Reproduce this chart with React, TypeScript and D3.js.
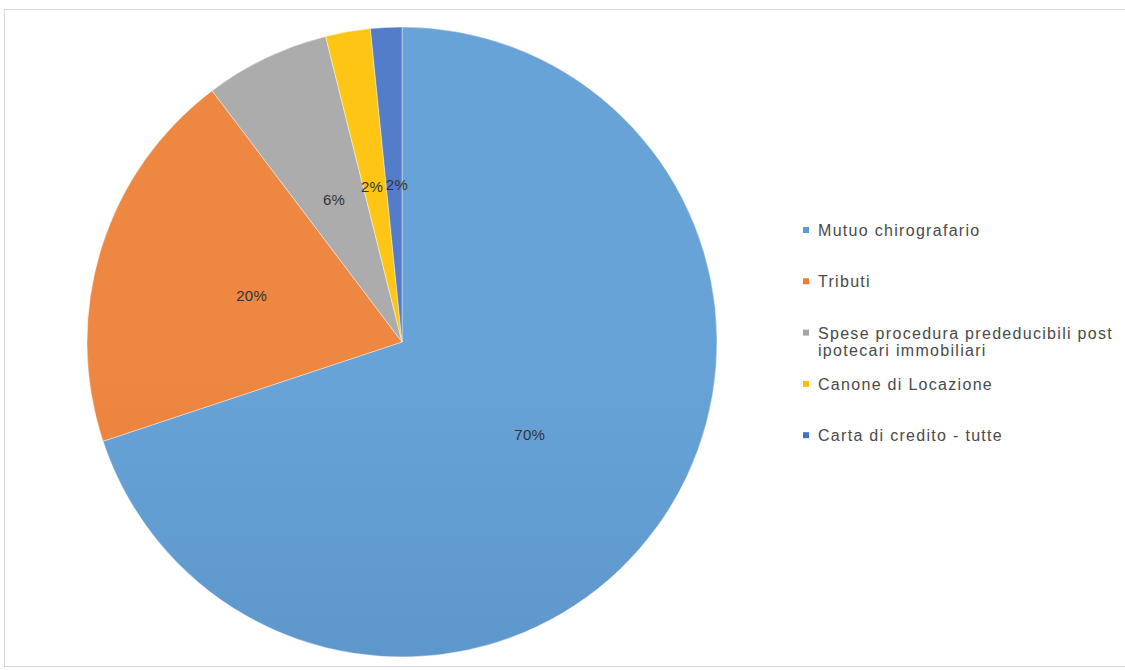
import React from "react";
import * as d3 from "d3";

const categories = [
  "Mutuo chirografario",
  "Tributi",
  "Spese procedura prededucibili post ipotecari immobiliari",
  "Canone di Locazione",
  "Carta di credito - tutte",
];
const legendLines = [
  ["Mutuo chirografario"],
  ["Tributi"],
  ["Spese procedura prededucibili post", "ipotecari immobiliari"],
  ["Canone di Locazione"],
  ["Carta di credito - tutte"],
];
const values = [69.9, 19.8, 6.4, 2.3, 1.6];
const colors = ["#5B9BD5", "#ED7D31", "#A5A5A5", "#FFC000", "#4472C4"];

const W = 1125;
const H = 670;
const cx = 402;
const cy = 342;
const R = 315;
const labelSize = 15;

export default function App() {
  const total = d3.sum(values);
  const pie = d3
    .pie<number>()
    .sort(null)
    .value((d) => d)
    .startAngle(0)
    .endAngle(2 * Math.PI);
  const arcs = pie(values);
  const arc = d3.arc<d3.PieArcDatum<number>>().innerRadius(0).outerRadius(R);
  const font = "Arial, 'Liberation Sans', sans-serif";

  // label positions at centroids, then nudge apart any that collide
  const labels = arcs.map((a, i) => {
    const [x, y] = arc.centroid(a);
    const text = Math.round((values[i] / total) * 100) + "%";
    const w = text.length * labelSize * 0.76 + 2;
    return { x, y, text, w };
  });
  for (let it = 0; it < 30; it++) {
    for (let i = 0; i < labels.length; i++) {
      for (let j = i + 1; j < labels.length; j++) {
        const a = labels[i];
        const b = labels[j];
        if (Math.abs(a.y - b.y) < labelSize) {
          const need = (a.w + b.w) / 2;
          const dx = b.x - a.x;
          if (Math.abs(dx) < need) {
            const push = (need - Math.abs(dx)) / 2 + 0.01;
            const s = dx >= 0 ? 1 : -1;
            a.x -= s * push;
            b.x += s * push;
          }
        }
      }
    }
  }

  const legendX = 803;
  const legendY0 = 230;
  const legendStep = 51.3;
  const lineH = 17;

  return (
    <svg
      width={W}
      height={H}
      style={{ position: "absolute", left: 0, top: 0, background: "#fff" }}
    >
      <defs>
        {colors.map((c, i) => (
          <linearGradient
            key={i}
            id={`g${i}`}
            gradientUnits="userSpaceOnUse"
            x1={cx}
            y1={cy - R}
            x2={cx}
            y2={cy + R}
          >
            <stop offset="0%" stopColor={d3.interpolateRgb(c, "#ffffff")(0.08)} />
            <stop offset="100%" stopColor={d3.interpolateRgb(c, "#000000")(0.12)} />
          </linearGradient>
        ))}
      </defs>
      <rect
        x={4.5}
        y={9.5}
        width={W + 10}
        height={657}
        fill="#fff"
        stroke="#d9d9d9"
        strokeWidth={1}
      />
      <g transform={`translate(${cx},${cy})`}>
        {arcs.map((a, i) => (
          <path
            key={i}
            d={arc(a) || ""}
            fill={`url(#g${i})`}
            stroke="#fff"
            strokeWidth={0.4}
          />
        ))}
        {labels.map((l, i) => (
          <text
            key={"l" + i}
            x={l.x}
            y={l.y}
            textAnchor="middle"
            dominantBaseline="central"
            fontFamily={font}
            fontSize={labelSize}
            letterSpacing={0.3}
            fill="#333333"
          >
            {l.text}
          </text>
        ))}
      </g>
      <g>
        {categories.map((c, i) => {
          const y = legendY0 + i * legendStep;
          return (
            <g key={c}>
              <rect
                x={legendX}
                y={y - 3}
                width={6}
                height={6}
                fill={colors[i]}
              />
              <text
                x={legendX + 15}
                y={y}
                dominantBaseline="central"
                fontFamily={font}
                fontSize={16}
                letterSpacing={1.3}
                fill="#4a4a4a"
              >
                {legendLines[i].map((t, j) => (
                  <tspan key={j} x={legendX + 15} dy={j === 0 ? 0 : lineH}>
                    {t}
                  </tspan>
                ))}
              </text>
            </g>
          );
        })}
      </g>
    </svg>
  );
}
